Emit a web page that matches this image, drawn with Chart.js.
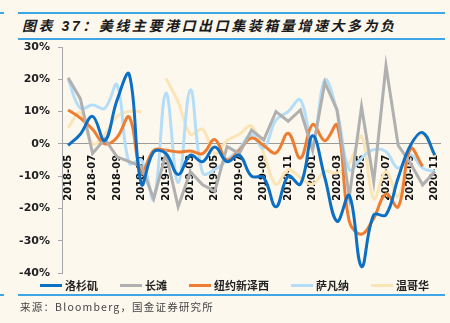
<!DOCTYPE html>
<html>
<head>
<meta charset="utf-8">
<script src="https://cdn.jsdelivr.net/npm/chart.js@4.4.0/dist/chart.umd.min.js"></script>
<style>
  body { margin: 0; background: #fcf8ee; }
  #wrap { position: relative; width: 450px; height: 323px; overflow: hidden; background: #fcf8ee; }
  #cv { position: absolute; left: 0; top: 0; }
  .rule { position: absolute; height: 2px; background: #3ea6e6; }
  #title { position: absolute; left: 22px; top: 15px; line-height: 22px; color: #1a1a1a;
           font: italic bold 14px "Liberation Sans", "Noto Sans CJK SC", sans-serif; letter-spacing: 2.55px; white-space: nowrap; }
  #legend { position: absolute; left: 40px; top: 277px; height: 16px; display: flex; align-items: center; white-space: nowrap; }
  #legend .sw { display: inline-block; flex: 0 0 22px; width: 22px; height: 3px; }
  #legend .tx { flex: 0 0 auto; margin: 0 22px 0 3px; font: bold 11px "Noto Sans CJK SC", sans-serif; color: #222; }
  #source { position: absolute; left: 20px; top: 299px; line-height: 16px; color: #444;
            font: 10.5px "Noto Sans CJK SC", "Liberation Sans", sans-serif; letter-spacing: 1.2px; white-space: nowrap; }
</style>
</head>
<body>
<div id="wrap">
  <div class="rule" style="left:0;width:4px;top:12px"></div>
  <div class="rule" style="left:18px;width:427px;top:12px"></div>
  <div id="title">图表 37：美线主要港口出口集装箱量增速大多为负</div>
  <div class="rule" style="left:18px;width:427px;top:38px"></div>
  <canvas id="cv" width="450" height="300"></canvas>
  <div id="legend"></div>
  <div class="rule" style="left:0;width:4px;top:294px"></div>
  <div class="rule" style="left:18px;width:427px;top:294px"></div>
  <div id="source">来源：Bloomberg，国金证券研究所</div>
</div>
<script>
// 月份
const months = ['2018-05','2018-06','2018-07','2018-08','2018-09','2018-10','2018-11','2018-12',
  '2019-01','2019-02','2019-03','2019-04','2019-05','2019-06','2019-07','2019-08','2019-09','2019-10','2019-11','2019-12',
  '2020-01','2020-02','2020-03','2020-04','2020-05','2020-06','2020-07','2020-08','2020-09','2020-10','2020-11'];

// 增速 (%)
const losAngeles = [-0.5, 3, 8.5, 1, 13.5, 21.5, -12.5, -2.5, -3, -9.5, -3.5, -5.5, -1, -5.5, -3.5, -10,
  -10.5, -19.5, -10, -12.5, 2.5, -10.5, -24, -16, -38, -22, -22, -10.5, -0.5, 3.5, -3.5];
const longBeach = [20.5, 14, -3, 1.5, -4, -5.5, -7, -17, -3, -19.5, -8.6, -12.7, -14.7, -0.8, -3, 4.3,
  1.2, 10, 7, 10.5, -2, 19, 10.5, -16.5, 11.5, -11.7, 24.2, -0.5, -6, -12.7, -8.6];
const newYorkNJ = [10.5, 8, 4.5, 0, 2, 8.3, -9, -2, -2, -2.5, -2.2, -3, 1.3, -5, -2, 1.8,
  -0.5, -2.8, 3.3, -4.4, 6, 1, 5.8, -24, -28, -23, -15.5, -19.5, -1.5, -7, null];
const savannah = [20, 11, 12, 11, 18.3, -6, -5, -17, 15.7, -12, 16.7, -9, -8, -5, -1.5, 2.8,
  -1.3, 7.4, 10, 13.6, 0, 19.8, 10, -8, -4.4, -1.8, -2.4, -7.5, -3.4, -7.5, -8.6];
const vancouver = [5, 9.7, 0, 3, 8.5, 10, 10, null, 20.3, 13, 3, 4.5, -3, 1, 3, 5.5,
  -3, -12.5, -8, -10.5, -12.5, -8.5, -9, -6, 2.3, -17, -8.6, -16.3, -1.3, 3, -4];

const seriesNames = ['洛杉矶', '长滩', '纽约新泽西', '萨凡纳', '温哥华'];
const seriesData = [losAngeles, longBeach, newYorkNJ, savannah, vancouver];
const colors = ['#0b6fc4', '#b0b0b0', '#ee7d31', '#b4def8', '#fbe5b6'];
const tensions = [0.4, 0, 0.4, 0.4, 0.4];

// legenda em HTML
const legendEl = document.getElementById('legend');
legendEl.innerHTML = seriesNames.map((n, i) =>
  `<span class="sw" style="background:${colors[i]}"></span><span class="tx">${n}</span>`).join('');

const datasets = seriesNames.map((n, i) => ({
  label: n,
  data: seriesData[i],
  borderColor: colors[i],
  backgroundColor: colors[i],
  borderWidth: 3,
  pointRadius: 0,
  tension: tensions[i],
  spanGaps: false
}));

new Chart(document.getElementById('cv'), {
  type: 'line',
  data: { labels: months, datasets },
  options: {
    responsive: false,
    animation: false,
    layout: { padding: { left: 12, right: 8, top: 47, bottom: 27 } },
    plugins: { legend: { display: false }, tooltip: { enabled: false } },
    scales: {
      x: {
        type: 'category',
        offset: true,
        position: { y: 0 },
        grid: { display: false },
        border: { color: '#9a9a9a', width: 1 },
        ticks: {
          autoSkip: false, minRotation: 90, maxRotation: 90, padding: 3,
          color: '#111', font: { family: 'DejaVu Sans', weight: 'bold', size: 10 },
          callback: (v, i) => (i % 2 === 0 ? months[i] : '')
        }
      },
      y: {
        min: -40, max: 30,
        afterFit: s => { s.width = 50; },
        grid: { drawOnChartArea: false, tickLength: 4, color: '#a6a6a6' },
        border: { color: '#a6a6a6', width: 1 },
        ticks: {
          stepSize: 10, padding: 8, color: '#222',
          font: { family: 'DejaVu Sans', weight: 'bold', size: 11 },
          callback: v => v + '%'
        }
      }
    }
  }
});
</script>
</body>
</html>
